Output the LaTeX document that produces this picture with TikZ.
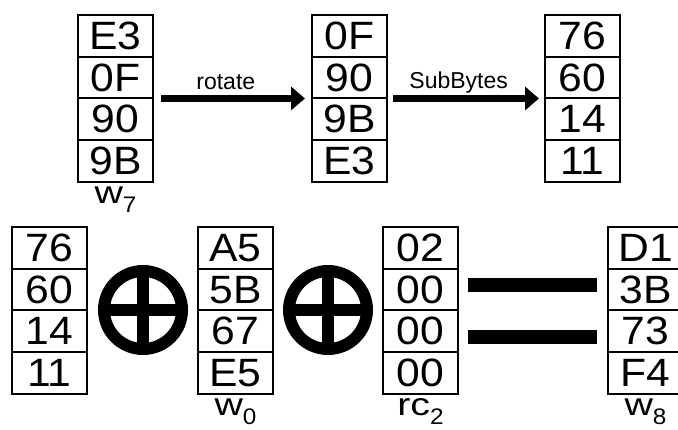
\documentclass[tikz,border=0pt]{standalone}
\usepackage{fontspec}
\setmainfont{Liberation Sans}
\newfontfamily\cellfont{Liberation Sans}[FakeStretch=1.08]
\newfontfamily\labfont{Liberation Sans}[FakeStretch=1.25]
\usetikzlibrary{arrows.meta}
\tikzset{
  cell/.style={draw, line width=2pt, minimum width=75pt, minimum height=41.75pt,
    inner sep=0pt, outer sep=0pt, font=\cellfont\fontsize{39.5}{39.5}\selectfont},
  arr/.style={line width=7pt, -{Triangle[length=14pt,width=23pt]}},
  lab/.style={font=\fontsize{23}{23}\selectfont, inner sep=0pt, anchor=base},
  wlab/.style={font=\labfont\fontsize{31.5}{31.5}\selectfont, inner sep=0pt, anchor=base},
  xor/.style={circle, draw, line width=12pt, minimum size=78pt, inner sep=0pt, outer sep=0pt},
  xorbar/.style={line width=12pt},
  eqbar/.style={fill=black, minimum width=129pt, minimum height=14pt, inner sep=0pt, outer sep=0pt}
}
\newcommand{\mycol}[7]{%
  \node[cell] (#1-1) at (#2,#3+20.875) {#4};
  \node[cell] (#1-2) at (#2,#3+62.625) {#5};
  \node[cell] (#1-3) at (#2,#3+104.375) {#6};
  \node[cell] (#1-4) at (#2,#3+146.125) {#7};
}
\newcommand{\subs}[1]{{\cellfont\fontsize{22.5}{22.5}\selectfont\raisebox{-9pt}{#1}}}
\begin{document}
\begin{tikzpicture}[x=1pt,y=-1pt]
\useasboundingbox (0,0) rectangle (678,430);
\clip (0,0) rectangle (678,430);
% top row
\mycol{wa}{115.5}{15}{E3}{0F}{90}{9B}
\mycol{rot}{349.5}{15}{0F}{90}{9B}{E3}
\mycol{sub}{582.5}{15}{76}{60}{14}{11}
\draw[arr] ([xshift=8pt]wa-2.south east) -- node[lab, pos=0.45, yshift=9pt]{rotate} ([xshift=-7pt]rot-2.south west);
\draw[arr] ([xshift=6pt]rot-2.south east) -- node[lab, pos=0.45, yshift=10pt]{SubBytes} ([xshift=-6pt]sub-2.south west);
\node[wlab] (l7) at (115.5,203.5) {w\subs{7}};
% bottom row
\mycol{t}{49.5}{227}{76}{60}{14}{11}
\mycol{wz}{235.5}{227}{A5}{5B}{67}{E5}
\mycol{rc}{420.5}{227}{02}{00}{00}{00}
\mycol{we}{645.5}{227}{D1}{3B}{73}{F4}
\node[xor] (x1) at (143,310) {};
\draw[xorbar] (x1.north) -- (x1.south);
\draw[xorbar] (x1.west) -- (x1.east);
\node[xor] (x2) at (328,310) {};
\draw[xorbar] (x2.north) -- (x2.south);
\draw[xorbar] (x2.west) -- (x2.east);
\node[eqbar] (e1) at (532.5,285) {};
\node[eqbar] (e2) at (532.5,337.5) {};
\node[wlab] (l0) at (235.5,415.3) {w\subs{0}};
\node[wlab] (lrc) at (420.5,415.3) {rc\subs{2}};
\node[wlab] (l8) at (645.5,415.3) {w\subs{8}};
\end{tikzpicture}
\end{document}
